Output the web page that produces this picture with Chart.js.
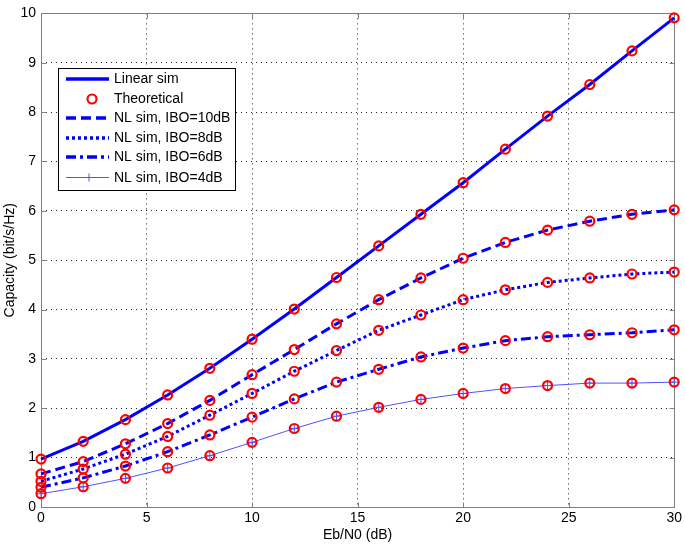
<!DOCTYPE html>
<html>
<head>
<meta charset="utf-8">
<script src="https://cdn.jsdelivr.net/npm/chart.js@4/dist/chart.umd.min.js"></script>
<style>
  html, body { margin: 0; padding: 0; background: #fff; }
  #wrap { width: 685px; height: 546px; position: relative; }
</style>
</head>
<body>
<div id="wrap"><canvas id="c" width="685" height="546"></canvas></div>
<script>
// ---- data ----
const ebn0 = [0, 2, 4, 6, 8, 10, 12, 14, 16, 18, 20, 22, 24, 26, 28, 30];
const linearSim = [0.97, 1.33, 1.77, 2.27, 2.81, 3.40, 4.01, 4.65, 5.29, 5.93, 6.57, 7.25, 7.92, 8.56, 9.24, 9.91];
const nlIbo10 = [0.67, 0.92, 1.28, 1.69, 2.16, 2.68, 3.19, 3.71, 4.20, 4.64, 5.04, 5.36, 5.61, 5.79, 5.93, 6.02];
const nlIbo8 = [0.52, 0.77, 1.07, 1.43, 1.86, 2.30, 2.75, 3.17, 3.58, 3.89, 4.20, 4.40, 4.55, 4.64, 4.72, 4.76];
const nlIbo6 = [0.40, 0.59, 0.83, 1.12, 1.46, 1.82, 2.19, 2.53, 2.79, 3.04, 3.22, 3.37, 3.45, 3.49, 3.53, 3.59];
const nlIbo4 = [0.27, 0.41, 0.58, 0.79, 1.04, 1.31, 1.59, 1.84, 2.02, 2.18, 2.30, 2.40, 2.46, 2.51, 2.51, 2.53];
const seriesLabels = ['Linear sim', 'Theoretical', 'NL sim, IBO=10dB', 'NL sim, IBO=8dB', 'NL sim, IBO=6dB', 'NL sim, IBO=4dB'];
const xTicks = [0, 5, 10, 15, 20, 25, 30];
const yTicks = [0, 1, 2, 3, 4, 5, 6, 7, 8, 9, 10];
const xTitle = 'Eb/N0 (dB)';
const yTitle = 'Capacity (bit/s/Hz)';

const FONT = "'Liberation Sans', Arial, Helvetica, sans-serif";
const BLUE = 'rgb(0,0,255)';
const RED = 'rgb(255,0,0)';

const toXY = arr => arr.map((v, i) => ({ x: ebn0[i], y: v }));
const theoreticalPts = [linearSim, nlIbo10, nlIbo8, nlIbo6, nlIbo4].flatMap(toXY);

const lineStyles = [
  { data: linearSim, label: seriesLabels[0], width: 3, dash: [], color: BLUE, cross: false },
  { data: nlIbo10, label: seriesLabels[2], width: 3, dash: [10, 5], color: BLUE, cross: false },
  { data: nlIbo8, label: seriesLabels[3], width: 3, dash: [3, 3], color: BLUE, cross: false },
  { data: nlIbo6, label: seriesLabels[4], width: 3, dash: [10, 4, 3, 4], color: BLUE, cross: false },
  { data: nlIbo4, label: seriesLabels[5], width: 1, dash: [], color: 'rgb(80,80,255)', cross: true }
];

const datasets = [
  {
    label: seriesLabels[1],
    data: theoreticalPts,
    showLine: false,
    pointStyle: 'circle',
    pointRadius: 4.5,
    pointBorderWidth: 2.2,
    pointBorderColor: RED,
    pointBackgroundColor: 'rgba(0,0,0,0)',
    order: 0,
    clip: false
  },
  ...lineStyles.map(s => ({
    label: s.label,
    data: toXY(s.data),
    borderColor: s.color,
    borderWidth: s.width,
    borderDash: s.dash,
    tension: 0,
    fill: false,
    pointStyle: s.cross ? 'cross' : 'circle',
    pointRadius: s.cross ? 4 : 0,
    pointBorderColor: s.color,
    pointBorderWidth: 1,
    order: 1,
    clip: false
  }))
];

const frame = {
  id: 'frame',
  beforeDatasetsDraw(chart) {
    const { ctx, chartArea: a, scales } = chart;
    ctx.save();
    ctx.strokeStyle = '#7f7f7f';
    ctx.lineWidth = 1;
    ctx.setLineDash([]);
    const L = Math.round(a.left) + 0.5, R = Math.round(a.right) + 0.5;
    const T = Math.round(a.top) + 0.5, B = Math.round(a.bottom) + 0.5;
    ctx.strokeRect(L, T, R - L, B - T);
    const tl = 5;
    ctx.beginPath();
    xTicks.forEach(v => {
      const px = Math.round(scales.x.getPixelForValue(v)) + 0.5;
      ctx.moveTo(px, B); ctx.lineTo(px, B - tl);
      ctx.moveTo(px, T); ctx.lineTo(px, T + tl);
    });
    yTicks.forEach(v => {
      const py = Math.round(scales.y.getPixelForValue(v)) + 0.5;
      ctx.moveTo(L, py); ctx.lineTo(L + tl, py);
      ctx.moveTo(R, py); ctx.lineTo(R - tl, py);
    });
    ctx.stroke();
    ctx.restore();
  },
  afterDraw(chart) {
    const { ctx } = chart;
    const bx = 58.5, by = 68.5, bw = 177, bh = 122;
    ctx.save();
    ctx.fillStyle = '#fff';
    ctx.fillRect(bx, by, bw, bh);
    ctx.strokeStyle = '#000';
    ctx.lineWidth = 1;
    ctx.setLineDash([]);
    ctx.strokeRect(bx, by, bw, bh);
    const rows = [79, 99, 118, 138, 157, 177.5];
    const x0 = 66, x1 = 109, tx = 114;
    ctx.font = '14px ' + FONT;
    ctx.textBaseline = 'middle';
    ctx.textAlign = 'left';
    const order = [lineStyles[0], null, lineStyles[1], lineStyles[2], lineStyles[3], lineStyles[4]];
    order.forEach((s, i) => {
      const y = rows[i];
      if (s) {
        ctx.strokeStyle = s.color;
        ctx.lineWidth = s.width === 3 ? 3.5 : s.width;
        ctx.setLineDash(s.dash);
        ctx.beginPath(); ctx.moveTo(x0, y); ctx.lineTo(x1, y); ctx.stroke();
        ctx.setLineDash([]);
        if (s.cross) {
          const cx = 89;
          ctx.beginPath(); ctx.moveTo(cx, y - 4); ctx.lineTo(cx, y + 4); ctx.stroke();
        }
      } else {
        const cx = 92;
        ctx.strokeStyle = RED;
        ctx.lineWidth = 2.2;
        ctx.beginPath(); ctx.arc(cx, y, 4.5, 0, Math.PI * 2); ctx.stroke();
      }
      ctx.fillStyle = '#000';
      ctx.fillText(seriesLabels[i], tx, y + 0.5);
    });
    ctx.restore();
  }
};

new Chart(document.getElementById('c'), {
  type: 'line',
  data: { datasets },
  plugins: [frame],
  options: {
    responsive: false,
    animation: false,
    layout: { padding: { top: 6, right: 10, left: 0, bottom: 0 } },
    plugins: { legend: { display: false }, tooltip: { enabled: false } },
    scales: {
      x: {
        type: 'linear', min: 0, max: 30,
        afterBuildTicks: sc => { sc.ticks = xTicks.map(v => ({ value: v })); },
        afterFit: sc => { sc.height = 39; },
        ticks: { color: '#000', font: { family: FONT, size: 14 }, padding: 3, maxRotation: 0 },
        grid: { color: '#222', lineWidth: 1, drawTicks: false },
        border: { display: false, dash: [1, 4] },
        title: { display: true, text: xTitle, color: '#000', font: { family: FONT, size: 14 }, padding: { top: 0, bottom: 2 } }
      },
      y: {
        type: 'linear', min: 0, max: 10,
        afterBuildTicks: sc => { sc.ticks = yTicks.map(v => ({ value: v })); },
        afterFit: sc => { sc.width = 41; },
        ticks: { color: '#000', font: { family: FONT, size: 14 }, padding: 5 },
        grid: { color: '#222', lineWidth: 1, drawTicks: false },
        border: { display: false, dash: [1, 4] },
        title: { display: true, text: yTitle, color: '#000', font: { family: FONT, size: 14 }, padding: { top: 2, bottom: 0 } }
      }
    }
  }
});
</script>
</body>
</html>
